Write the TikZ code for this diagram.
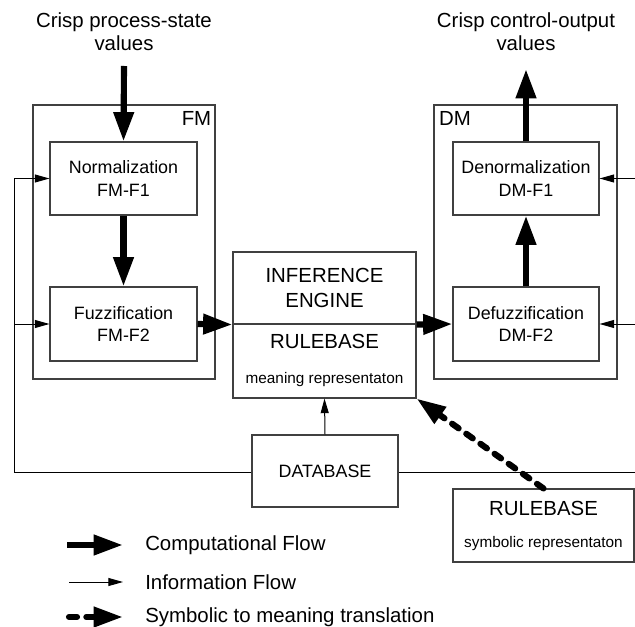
\documentclass[tikz,border=0pt]{standalone}
\usepackage{fontspec}
\setmainfont{Liberation Sans}
\usetikzlibrary{arrows.meta}
\begin{document}
\begin{tikzpicture}[x=0.75pt,y=-0.75pt,
  box/.style={draw=black!75,line width=0.8pt,rectangle,inner sep=0pt,font=\fontsize{13.4pt}{17pt}\selectfont,align=center},
  big/.style={font=\fontsize{15.3pt}{17.3pt}\selectfont,align=center,inner sep=0pt},
  small/.style={font=\fontsize{11.5pt}{13pt}\selectfont,inner sep=0pt},
  comp/.style={line width=4.6pt,-{Triangle[length=22pt,width=14.5pt]}},
  info/.style={line width=0.75pt,-{Triangle[length=11pt,width=6pt]}},
  infoline/.style={line width=0.75pt},
  symb/.style={line width=4.6pt,line cap=round,dash pattern=on 6pt off 7pt,-{Triangle[length=22pt,width=14.5pt]}}
]
\useasboundingbox (0,0) rectangle (635,627);
\clip (0,0) rectangle (635,627);
% frames
\node[box,minimum width=136.5pt,minimum height=205.5pt] (fm) at (124,242) {};
\node[box,minimum width=137.25pt,minimum height=205.5pt] (dm) at (525.5,242) {};
\node[big] (fml) at (196.5,118.5) {FM};
\node[big] (dml) at (455,118.5) {DM};
% function boxes
\node[box,minimum width=110.25pt,minimum height=54.75pt] (norm) at (123.5,178.5) {Normalization\\FM-F1};
\node[box,minimum width=110.25pt,minimum height=55.5pt] (fuzz) at (123.5,324) {Fuzzification\\FM-F2};
\node[box,minimum width=109.5pt,minimum height=54.75pt] (denorm) at (526,178.5) {Denormalization\\DM-F1};
\node[box,minimum width=109.5pt,minimum height=55.5pt] (defuzz) at (526,324) {Defuzzification\\DM-F2};
% inference engine / rulebase
\node[box,minimum width=137.25pt,minimum height=54pt,font=\fontsize{15.3pt}{18.5pt}\selectfont] (ie) at (324.5,288) {INFERENCE\\ENGINE};
\node[box,minimum width=137.25pt,minimum height=55.5pt] (rbm) at (324.5,361) {};
\node[big] (rbmt) at (324.5,341.5) {RULEBASE};
\node[small] (rbms) at (324.5,380) {meaning representaton};
% database
\node[box,minimum width=109.5pt,minimum height=54pt] (db) at (325,471) {DATABASE};
% symbolic rulebase
\node[box,minimum width=135.75pt,minimum height=54.75pt] (rbs) at (543.5,525.5) {};
\node[big] (rbst) at (543.5,508) {RULEBASE};
\node[small] (rbss) at (543.5,544) {symbolic representaton};
% top labels
\node[big] (inlab) at (124,31.5) {Crisp process-state\\values};
\node[big] (outlab) at (526,31.5) {Crisp control-output\\values};
\coordinate (inst) at (124,66);
\coordinate (outend) at (526,69);
% computational flow
\draw[comp] (inst) -- (norm.north);
\draw[comp] (norm.south) -- (fuzz.north);
\draw[comp] (fuzz.east) -- (ie.south west);
\draw[comp] (ie.south east) -- (defuzz.west);
\draw[comp] (defuzz.north) -- (denorm.south);
\draw[comp] (denorm.north) -- (outend);
% information flow
\coordinate (lc) at (14,472);
\coordinate (rc) at (640,472);
\draw[info] (db.west |- lc) -- (lc) |- (norm.west);
\draw[info] (lc |- fuzz.west) -- (fuzz.west);
\draw[info] (db.east |- rc) -- (rc) |- (denorm.east);
\draw[info] (rc |- defuzz.east) -- (defuzz.east);
\draw[info] (db.north) -- (rbm.south);
% symbolic translation
\draw[symb] (rbs.north) -- (rbm.south east);
% legend
\coordinate (l1a) at (67,545); \coordinate (l1b) at (123,545);
\coordinate (l2a) at (69,582); \coordinate (l2b) at (123,582);
\coordinate (l3a) at (69,617); \coordinate (l3b) at (123,617);
\draw[comp] (l1a) -- (l1b);
\draw[info] (l2a) -- (l2b);
\draw[symb] (l3a) -- (l3b);
\node[big,anchor=west] (t1) at (145,545) {Computational Flow};
\node[big,anchor=west] (t2) at (145,582) {Information Flow};
\node[big,anchor=west] (t3) at (145,617) {Symbolic to meaning translation};
\end{tikzpicture}
\end{document}
